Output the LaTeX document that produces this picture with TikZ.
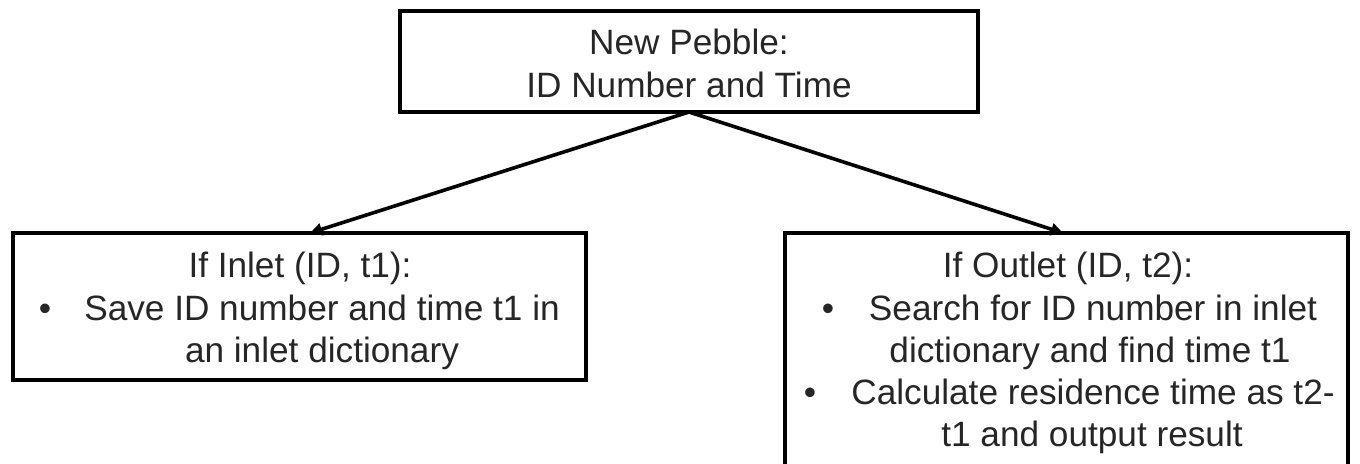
\documentclass[tikz,border=0pt]{standalone}
\usepackage{fontspec}
\setmainfont{Liberation Sans}
\usetikzlibrary{arrows.meta}
\begin{document}
\begin{tikzpicture}[x=0.5pt,y=-0.5pt,
  box/.style={draw=black, line width=2pt, inner sep=0pt, outer sep=0pt},
  txt/.style={anchor=base, inner sep=0pt, text=black!85, font=\fontsize{17.6}{21}\selectfont},
  conn/.style={line width=1.8pt, -{Triangle[length=6pt,width=6pt]}}]
\clip (0,0) rectangle (1360,463);
\fill[white] (0,0) rectangle (1360,463);
% boxes
\node[box, minimum width=289pt, minimum height=50.5pt] (top) at (689,61.5) {};
\node[box, minimum width=286.5pt, minimum height=73.5pt] (left) at (299.5,306.5) {};
\node[box, minimum width=281.5pt, minimum height=120pt] (right) at (1066.5,353) {};
% texts
\node[txt] (t1) at (689,54) {New Pebble:};
\node[txt] (t2) at (689,97) {ID Number and Time};
\node[txt] (l1) at (300,277) {If Inlet (ID, t1):};
\node[txt] (lb1) at (45,320) {\textbullet};
\node[txt] (l2) at (322,320) {Save ID number and time t1 in};
\node[txt] (l3) at (322,362) {an inlet dictionary};
\node[txt] (r1) at (1068,277) {If Outlet (ID, t2):};
\node[txt] (rb1) at (828,320) {\textbullet};
\node[txt] (r2) at (1093,320) {Search for ID number in inlet};
\node[txt] (r3) at (1090,362) {dictionary and find time t1};
\node[txt] (rb2) at (810,404) {\textbullet};
\node[txt] (r4) at (1093,404) {Calculate residence time as t2-};
\node[txt] (r5) at (1092,446) {t1 and output result};
% connectors
\coordinate (lt) at ([xshift=5.25pt]left.north);
\coordinate (rt) at ([xshift=-1.75pt]right.north);
\draw[conn] (top.south) -- (lt);
\draw[conn] (top.south) -- (rt);
\end{tikzpicture}
\end{document}
